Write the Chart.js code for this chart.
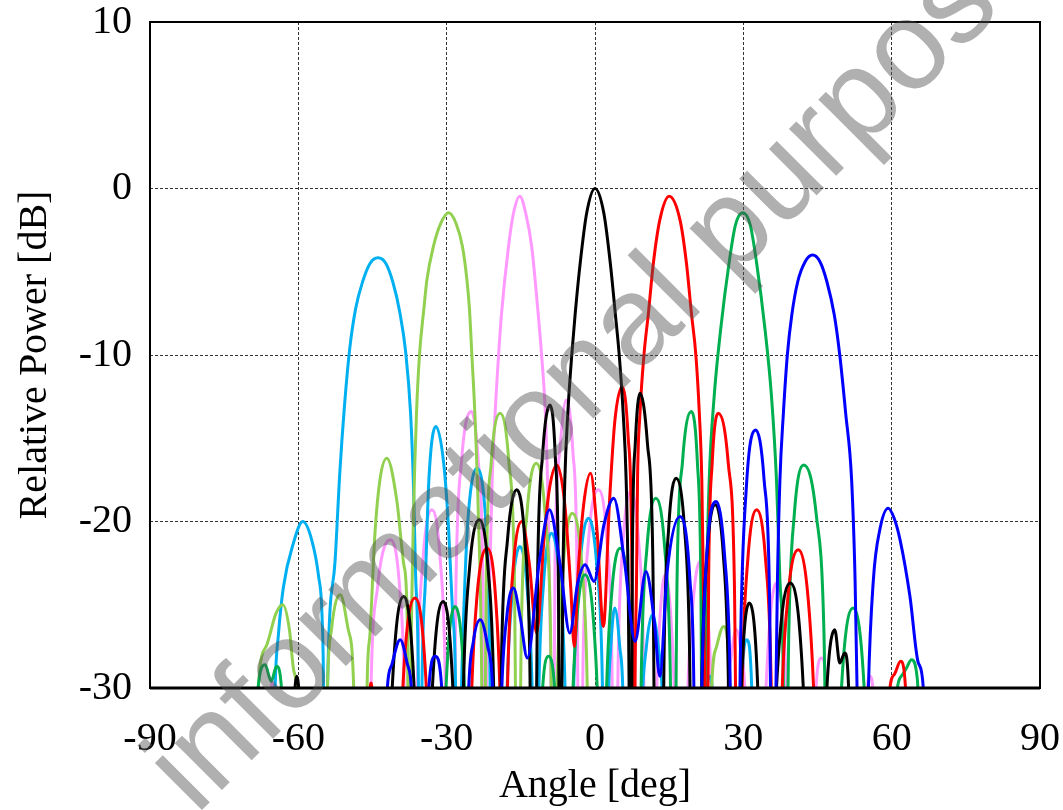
<!DOCTYPE html>
<html>
<head>
<meta charset="utf-8">
<script src="https://cdn.jsdelivr.net/npm/chart.js@4.4.0/dist/chart.umd.min.js"></script>
<style>
  body { margin: 0; background: #fff; }
  #wrap { width: 1063px; height: 810px; }
</style>
</head>
<body>
<div id="wrap"><canvas id="myChart" width="1063" height="810"></canvas></div>
<script>
// beam patterns, [angle deg, relative power dB]
// -45 dB points are nulls below the bottom of the axis
const xTicks = [-90, -60, -30, 0, 30, 60, 90];
const yTicks = [-30, -20, -10, 0, 10];

const beamBlue = [
  [-43.2,-45],[-42.2,-31],[-41,-28.5],[-39.4,-27.1],[-38,-28.5],[-36.9,-31.5],[-36.2,-45],
  [-34.5,-45],[-33.8,-31],[-32.3,-28.1],[-30.8,-31],[-30.0,-45],
  [-26.6,-45],[-25.6,-30.5],[-24.6,-27.2],[-23.2,-25.9],[-21.7,-27.5],[-20.6,-31],[-19.9,-45],
  [-18.9,-30.5],[-17.8,-25.6],[-16.5,-24.0],[-15.1,-25.8],[-13.7,-28.2],[-11.3,-22.5],[-9.2,-19.3],
  [-7.1,-22.5],[-5.1,-26.7],[-3.5,-23.7],[-2.0,-22.6],[-0.2,-23.6],[1.8,-20.2],[3.8,-18.6],[6.0,-22.5],
  [8.1,-27.2],[10.3,-23.0],[12.0,-26],[13.1,-29.3],[14.6,-23],[17.2,-19.7],[19.2,-23.5],[20.0,-30],[20.4,-45],
  [20.9,-45],[21.6,-30],[22.6,-22],[24.5,-18.8],[26.2,-22],[27.3,-29],[28.0,-45],
  [28.8,-45],[29.4,-28],[30.6,-18],[32.5,-14.5],[34.2,-17.5],[35.3,-24.5],[36.0,-45],
  [36.6,-30],[36.9,-23.5],[37.4,-17.5],[38.1,-13.5],[38.9,-10],[39.8,-7.6],[41.0,-5.6],[42.5,-4.4],
  [44.0,-4.0],[45.5,-4.4],[46.9,-5.6],[48.4,-7.6],[49.5,-10],[50.7,-13.5],[51.9,-17.5],[52.6,-23.5],[53.0,-30],[53.6,-45],
  [54.4,-45],[55.3,-30],[56.3,-23.5],[57.6,-20.5],[59.3,-19.2],[60.5,-19.8],[61.7,-21.1],[63.7,-24.5],[65.4,-28.5],[66.4,-30],[67.2,-45]
];

const beamBlack = [
  [-61.6,-45],[-60.95,-32.3],[-60.3,-29.3],[-59.65,-32.3],[-59.0,-45],
  [-42.3,-45],[-41.6,-34.5],[-40.5,-27.5],[-38.7,-24.5],[-37.05,-27.5],[-36.05,-34.5],[-35.4,-45],
  [-34.2,-45],[-33.5,-34.8],[-32.45,-27.8],[-30.7,-24.8],[-29.15,-27.8],[-28.2,-34.8],[-27.6,-45],
  [-27.4,-45],[-26.6,-29.9],[-25.4,-22.9],[-23.4,-19.9],[-21.6,-22.9],[-20.5,-29.9],[-19.8,-45],
  [-19.6,-45],[-18.9,-28.1],[-17.7,-21.1],[-15.8,-18.1],[-14.2,-21.1],[-13.2,-28.1],[-12.6,-45],
  [-12.3,-45],[-11.6,-23],[-10.6,-16],[-9.1,-13],[-8.05,-16],[-7.42,-23],[-7.0,-45],
  [-6.7,-30],[-6.5,-23.5],[-6.1,-17.5],[-5.5,-13.5],[-4.7,-10],[-4.0,-7.5],[-3.0,-4.5],[-1.7,-1.5],
  [0,0],[1.8,-1.5],[3.1,-4.5],[4.1,-7.5],[4.9,-10],[5.7,-13.5],[6.3,-17.5],[6.7,-23.5],[6.9,-30],[7.2,-45],
  [7.55,-22.3],[8.15,-15.3],[9.1,-12.3],[10.6,-15.3],[11.7,-22.3],[12.4,-45],
  [13.4,-45],[14.0,-27.4],[14.9,-20.4],[16.4,-17.4],[18.1,-20.4],[19.1,-27.4],[19.8,-45],
  [21.0,-45],[21.66,-29],[22.65,-22],[24.3,-19],[25.95,-22],[26.94,-29],[27.6,-45],
  [28.6,-45],[29.1,-34.9],[29.9,-27.9],[31.2,-24.9],[32.6,-27.9],[33.4,-34.9],[34.0,-45],
  [35.4,-45],[36.2,-33.7],[37.45,-26.7],[39.5,-23.7],[41.45,-26.7],[42.6,-33.7],[43.4,-45],
  [45.5,-45],[46.1,-36.5],[47,-29.5],[48.5,-26.5],[49.5,-28.5],[50.5,-27.9],[51.4,-31],[52.2,-45]
];

const beamRed = [
  [-46.2,-45],[-45.75,-32.7],[-45.3,-29.7],[-44.85,-32.7],[-44.4,-45],
  [-40.3,-45],[-39.5,-34.6],[-38.35,-27.6],[-36.4,-24.6],[-34.6,-27.6],[-33.52,-34.6],[-32.8,-45],
  [-26,-45],[-25.1,-31.6],[-23.9,-24.6],[-21.8,-21.6],[-20.1,-24.6],[-19.1,-31.6],[-18.4,-45],
  [-17.7,-30],[-16.6,-23],[-14.8,-20],[-13.3,-22.5],[-11.8,-26.7],[-10.3,-21],[-9.2,-18],[-7.7,-16.6],
  [-6.1,-19],[-4.9,-24],[-4.2,-27.5],[-3.4,-23],[-2.3,-19],[-0.9,-17.1],[0.4,-20.5],[1.7,-26.3],
  [2.9,-19],[4.0,-14],[5.5,-11.9],[6.7,-14.9],[7.44,-21.9],[7.9,-45],
  [8.1,-30],[8.4,-23.5],[8.6,-17.5],[9.1,-13.5],[9.9,-10],[10.8,-7.5],[11.8,-4.5],[13.1,-1.9],
  [15.0,-0.46],[17.2,-1.9],[18.5,-4.5],[19.5,-7.5],[20.4,-10],[21.1,-13.5],[21.6,-17.5],[21.9,-23.5],[22.2,-30],[22.5,-45],
  [22.98,-23.5],[23.7,-16.5],[24.9,-13.5],[26.95,-16.5],[28.18,-23.5],[29.0,-45],
  [29.8,-29.3],[30.9,-22.3],[32.7,-19.3],[34.5,-22.3],[35.6,-29.3],[36.3,-45],
  [36.9,-45],[37.7,-31.6],[39.0,-24.6],[41.1,-21.7],[43.1,-24.6],[44.4,-31.6],[45.4,-45],
  [58.8,-45],[59.5,-30.5],[60.5,-29.2],[61.8,-28.4],[62.8,-30],[63.8,-45]
];

const beamGreen = [
  [-69.3,-45],[-68.3,-30.5],[-66.7,-28.6],[-65.5,-29.6],[-64.4,-28.7],[-63.3,-30.5],[-62.5,-45],
  [-31.3,-45],[-30.7,-35.1],[-29.8,-28.1],[-28.3,-25.1],[-26.75,-28.1],[-25.8,-35.1],[-25.2,-45],
  [-12.2,-45],[-10.8,-31.1],[-9.4,-28.1],[-7.95,-31.1],[-6.5,-45],
  [-5.5,-45],[-4.8,-33.2],[-3.75,-26.2],[-2.0,-23.2],[-0.25,-26.2],[0.8,-33.2],[1.5,-45],
  [2.2,-31.6],[3.3,-24.6],[5.05,-21.6],[6.9,-24.6],[8.0,-31.6],[8.7,-45],
  [9.4,-28.6],[10.5,-21.6],[12.3,-18.6],[14.1,-21.6],[15.2,-28.6],[15.9,-45],
  [16.6,-23.4],[17.7,-16.4],[19.5,-13.4],[20.7,-16.4],[21.4,-23.4],[21.9,-45],
  [22.3,-30],[22.6,-23.5],[23.1,-17.5],[24.1,-12.5],[25.4,-8.5],[27.1,-4.5],[28.4,-2.2],[29.9,-1.46],
  [31.4,-2.2],[32.7,-4.5],[34.4,-8.5],[35.7,-12.5],[36.7,-17.5],[37.4,-23.5],[38.1,-30],[38.4,-45],
  [39.2,-26.6],[40.3,-19.6],[42.2,-16.6],[44.75,-19.6],[46.3,-26.6],[47.3,-45],
  [48.3,-45],[49.1,-35.2],[50.25,-28.2],[52.2,-25.2],[54.05,-28.2],[55.16,-35.2],[55.9,-45],
  [59.8,-45],[60.8,-31],[62.2,-29.2],[63.0,-28.8],[64.0,-28.3],[65.2,-29.5],[66.4,-45]
];

const beamLightGreen = [
  [-69,-45],[-68.1,-30],[-66.5,-27.5],[-64.5,-25.5],[-63.1,-25.0],[-61.8,-26.5],[-60.9,-29],[-60.3,-30.5],[-59.8,-45],
  [-54.8,-45],[-54.1,-30],[-53.3,-26.5],[-51.5,-24.4],[-49.9,-26.5],[-48.8,-30],[-48.2,-45],
  [-46.6,-45],[-46.1,-30],[-45.5,-26.7],[-44.5,-20.7],[-43.5,-17.5],[-42.1,-16.2],[-40.1,-18.7],[-38.6,-22.7],[-37.9,-27],[-37.7,-45],
  [-37.3,-30],[-36.7,-19.5],[-36.1,-13.5],[-35.5,-10],[-34.6,-7.2],[-34.0,-5.5],[-32.7,-3.5],[-31.2,-2.1],[-29.6,-1.46],
  [-28.1,-2.1],[-26.8,-3.5],[-25.9,-5.5],[-25.4,-7.2],[-24.9,-10],[-24.3,-13.5],[-23.6,-19.5],[-22.9,-30],[-22.6,-45],
  [-22.0,-23.5],[-21.0,-16.5],[-19.2,-13.5],[-17.4,-16.5],[-16.3,-23.5],[-15.6,-45],
  [-14.9,-26.5],[-13.75,-19.5],[-11.9,-16.5],[-10.1,-19.5],[-9.0,-26.5],[-8.3,-45],
  [-7.6,-29.5],[-6.4,-22.5],[-4.6,-19.5],[-2.7,-22.5],[-1.6,-29.5],[-0.9,-45],
  [22.8,-45],[23.6,-30],[24.6,-27.5],[26.0,-26.3],[27.0,-28],[27.8,-45]
];

const beamCyan = [
  [-65.6,-45],[-64.7,-30],[-64.0,-26.7],[-63.0,-23.9],[-61.0,-21.3],[-59.1,-20.0],[-57.3,-21.1],[-55.9,-23.3],[-55.2,-25.7],[-54.9,-30],[-54.6,-45],
  [-54.1,-30],[-52.6,-22.5],[-51.6,-17],[-50.6,-12.8],[-49.6,-9.6],[-48.4,-7.2],[-47.0,-5.6],[-45.5,-4.5],[-43.9,-4.16],
  [-42.3,-4.5],[-40.9,-5.6],[-39.5,-7.4],[-38.3,-9.8],[-37.3,-13.5],[-36.7,-18],[-36.3,-23],[-35.7,-30],[-35.4,-45],
  [-35.0,-30],[-34.3,-23.5],[-33.6,-17.5],[-32.2,-14.3],[-30.6,-16.5],[-29.6,-20.5],[-28.8,-25.5],[-28.2,-30],[-27.9,-45],
  [-27.0,-30],[-26.3,-23.5],[-25.6,-19.5],[-23.9,-16.8],[-22.2,-19.5],[-21.6,-23.5],[-21.2,-30],[-20.8,-45],
  [-18.6,-45],[-17.9,-31.5],[-16.8,-24.5],[-15.2,-21.5],[-13.6,-24.5],[-12.6,-31.5],[-12.0,-45],
  [-11.4,-30.7],[-10.4,-23.7],[-8.8,-20.7],[-7.1,-23.7],[-6.0,-30.7],[-5.3,-45],
  [-4.3,-29.8],[-3.1,-22.8],[-1.35,-19.8],[0.4,-22.8],[1.5,-29.8],[2.1,-45],
  [2.7,-31],[3.2,-27.5],[4.0,-25.2],[5.0,-27.5],[5.7,-31],[6.3,-45],
  [8.6,-45],[9.4,-32],[10.4,-27.5],[11.6,-25.6],[12.8,-27.5],[13.8,-32],[14.5,-45],
  [22.0,-45],[22.6,-30.5],[23.2,-29.3],[23.8,-30.5],[24.4,-45],
  [28.7,-45],[29.7,-30],[30.7,-27.1],[31.7,-30],[32.6,-45]
];

const beamPink = [
  [-66.2,-45],[-65.3,-29.6],[-64.4,-45],
  [-46.0,-45],[-45.3,-30],[-44.0,-24],[-41.4,-21.1],[-39.5,-24],[-38.6,-30],[-38.0,-45],
  [-36.6,-45],[-35.9,-29.3],[-34.8,-22.3],[-33.0,-19.3],[-31.3,-22.3],[-30.3,-29.3],[-29.7,-45],
  [-28.9,-45],[-28.1,-23.4],[-27.0,-16.4],[-25.0,-13.4],[-23.6,-16.4],[-22.7,-23.4],[-22.2,-45],
  [-21.9,-30],[-21.3,-23.5],[-20.8,-17.5],[-20.2,-13.5],[-19.5,-10],[-18.9,-7.5],[-17.5,-3.5],[-16.5,-1.5],
  [-15.2,-0.46],[-14.0,-1.5],[-12.8,-3.5],[-11.5,-7.5],[-10.8,-10],[-10.1,-13.1],[-9.6,-17.5],[-9.2,-23.5],[-8.9,-30],[-8.6,-45],
  [-8.1,-22.7],[-7.1,-15.7],[-5.8,-12.7],[-4.5,-15.7],[-3.65,-22.7],[-3.1,-45],
  [-2.4,-28.1],[-1.3,-21.1],[0.7,-18.1],[2.4,-21.1],[3.4,-28.1],[4.0,-45],
  [4.7,-28.1],[5.7,-21.1],[7.2,-18.2],[8.8,-21.1],[9.8,-28.1],[10.4,-45],
  [11.6,-45],[12.3,-32],[13.1,-26],[14.2,-23.2],[15.4,-26],[16.2,-32],[16.9,-45],
  [17.9,-45],[18.7,-31],[19.8,-25],[21.2,-22.4],[22.6,-25],[23.6,-31],[24.3,-45],
  [26.0,-45],[26.8,-31],[27.6,-28],[28.6,-26.5],[29.6,-28],[30.4,-31],[31.1,-45],
  [33.6,-45],[34.2,-33.7],[35.2,-26.7],[36.7,-23.7],[38.2,-26.7],[39.1,-33.7],[39.7,-45],
  [43.5,-45],[44.5,-31.2],[45.8,-28.2],[47.0,-31.2],[48,-45],
  [54.2,-45],[55,-30.5],[55.6,-29.3],[56.3,-30.5],[57,-45]
];

// first dataset is drawn on top
const beams = [
  { data: beamBlue, color: '#0000ff' },
  { data: beamBlack, color: '#000000' },
  { data: beamRed, color: '#ff0000' },
  { data: beamGreen, color: '#00b050' },
  { data: beamLightGreen, color: '#92d050' },
  { data: beamCyan, color: '#00b0f0' },
  { data: beamPink, color: '#ff99ff' }
];

const serif = 'Liberation Serif';

// black frame round the plot area
const framePlugin = {
  id: 'frame',
  afterDatasetsDraw(chart) {
    const { ctx, chartArea: a } = chart;
    ctx.save();
    ctx.strokeStyle = '#000';
    ctx.lineWidth = 2;
    ctx.strokeRect(a.left, a.top, a.right - a.left, a.bottom - a.top);
    ctx.lineWidth = 3;
    ctx.beginPath();
    ctx.moveTo(a.left, a.bottom);
    ctx.lineTo(a.right, a.bottom);
    ctx.stroke();
    ctx.restore();
  }
};

// grey diagonal watermark
const watermarkPlugin = {
  id: 'watermark',
  afterDraw(chart) {
    const ctx = chart.ctx;
    ctx.save();
    ctx.translate(196, 816);
    ctx.rotate(-45 * Math.PI / 180);
    ctx.font = '126px "Liberation Sans"';
    ctx.fillStyle = 'rgba(80,80,80,0.45)';
    ctx.fillText('informational purposes only', 0, 0);
    ctx.restore();
  }
};

const ctx = document.getElementById('myChart').getContext('2d');
const chart = new Chart(ctx, {
  type: 'line',
  data: {
    datasets: beams.map(b => ({
      data: b.data.map(p => ({ x: p[0], y: p[1] })),
      borderColor: b.color,
      borderWidth: 3,
      pointRadius: 0,
      fill: false,
      cubicInterpolationMode: 'monotone'
    }))
  },
  options: {
    responsive: false,
    animation: false,
    layout: { padding: { top: 22, right: 23, left: 0, bottom: 0 } },
    plugins: { legend: { display: false }, tooltip: { enabled: false } },
    scales: {
      x: {
        type: 'linear',
        min: xTicks[0],
        max: xTicks[xTicks.length - 1],
        afterBuildTicks: s => { s.ticks = xTicks.map(v => ({ value: v })); },
        afterFit: s => { s.height = 122; s.paddingLeft = 0; s.paddingRight = 0; },
        ticks: { color: '#000', padding: 27, font: { family: serif, size: 40 } },
        grid: { color: '#333', lineWidth: 1, drawTicks: false },
        border: { display: false, dash: [3, 2] },
        title: { display: true, text: 'Angle [deg]', color: '#000', font: { family: serif, size: 40 }, padding: { top: 0, bottom: 0 } }
      },
      y: {
        min: yTicks[0],
        max: yTicks[yTicks.length - 1],
        afterBuildTicks: s => { s.ticks = yTicks.map(v => ({ value: v })); },
        afterFit: s => { s.width = 150; s.paddingTop = 0; s.paddingBottom = 0; },
        ticks: { color: '#000', padding: 18, font: { family: serif, size: 40 } },
        grid: { color: '#333', lineWidth: 1, drawTicks: false },
        border: { display: false, dash: [3, 2] },
        title: { display: true, text: 'Relative Power [dB]', color: '#000', font: { family: serif, size: 40 }, padding: { top: 11, bottom: 0 } }
      }
    }
  },
  plugins: [framePlugin, watermarkPlugin]
});
</script>
</body>
</html>
